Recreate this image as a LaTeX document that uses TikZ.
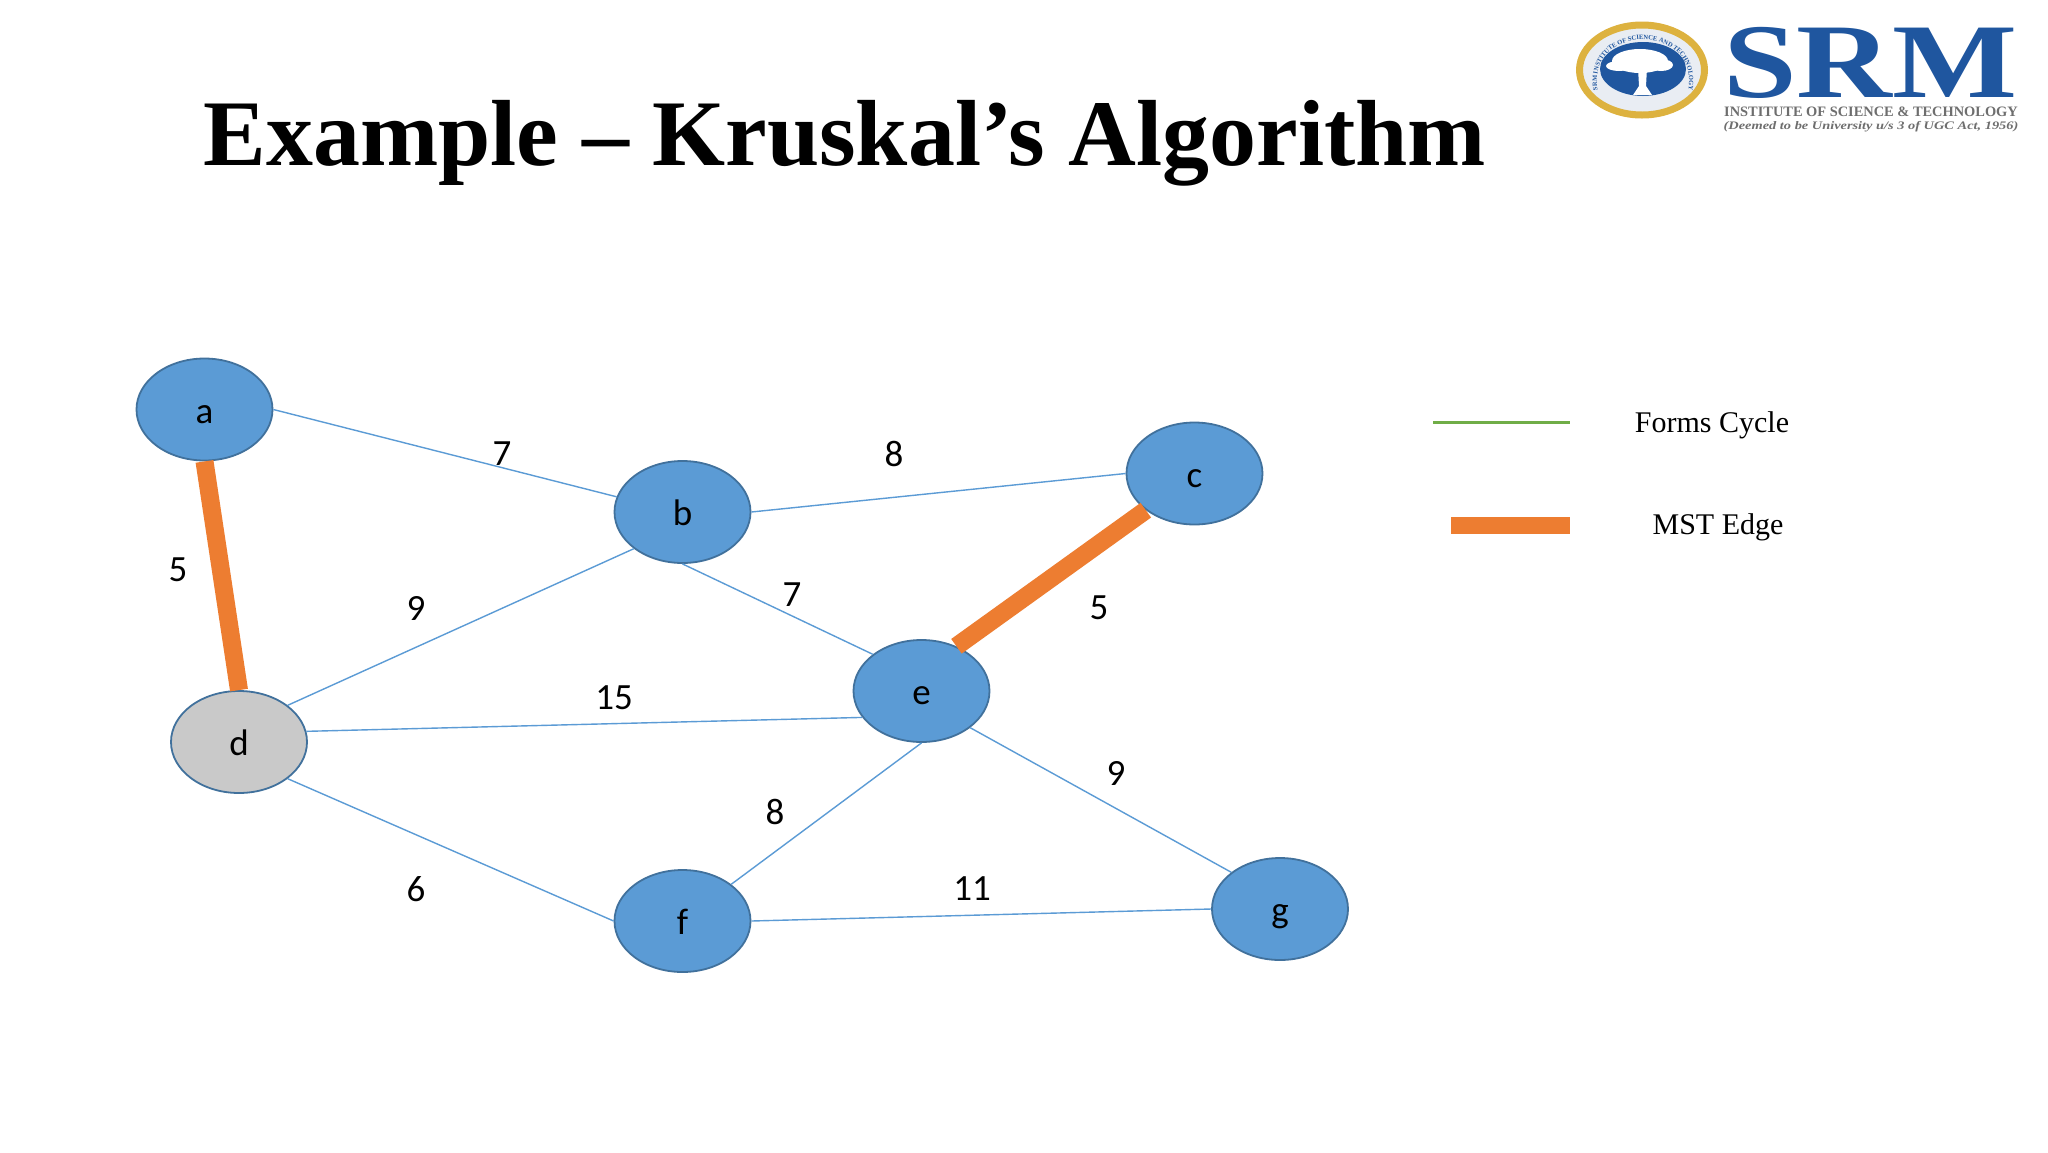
\documentclass[tikz,border=0pt]{standalone}
\usepackage{fontspec}
\usepackage{graphicx}
\setmainfont{Liberation Serif}
\newfontfamily\calib{Carlito}
\usetikzlibrary{shapes.geometric,decorations.text}
\definecolor{nodeblue}{HTML}{5B9BD5}
\definecolor{nodeedge}{HTML}{41719C}
\definecolor{mstorange}{HTML}{ED7D31}
\definecolor{cyclegreen}{HTML}{70AD47}
\definecolor{nodegray}{HTML}{C9C9C9}
\definecolor{srmblue}{HTML}{1F569F}
\definecolor{srmgold}{HTML}{DDB23F}
\definecolor{srmgrey}{HTML}{6E6E6E}
\definecolor{sealback}{HTML}{E9EDF3}
\tikzset{
  x=1pt,y=-1pt,
  vertex/.style={ellipse,draw=nodeedge,line width=1.8pt,fill=nodeblue,minimum width=136pt,minimum height=102pt,inner sep=0pt,text height=30pt,text depth=3pt,font=\calib\fontsize{37}{37}\selectfont,text=black},
  graphedge/.style={draw=nodeblue,line width=1.4pt},
  mstedge/.style={draw=mstorange,line width=18pt},
  weight/.style={font=\calib\fontsize{37}{37}\selectfont,text=black,inner sep=0pt},
  legendtext/.style={font=\fontsize{30}{30}\selectfont,text=black,inner sep=0pt},
}
\begin{document}
\begin{tikzpicture}
\useasboundingbox (0,0) rectangle (2048,1152);
\fill[white] (0,0) rectangle (2048,1152);
\node[inner sep=0pt,font=\bfseries\fontsize{93.9}{94}\selectfont] (title) at (845,143) {Example – Kruskal’s Algorithm};
% graph
\node[vertex] (a) at (204.5,409.5) {a};
\node[vertex] (b) at (682.5,512) {b};
\node[vertex] (c) at (1194.5,473.5) {c};
\node[vertex,fill=nodegray] (d) at (239,742) {d};
\node[vertex] (e) at (921.5,691) {e};
\node[vertex] (f) at (682.5,921) {f};
\node[vertex] (g) at (1280,909) {g};
\draw[graphedge] (a.east) -- (b.167);
\draw[graphedge] (b.east) -- (c.west);
\draw[graphedge] (b.south) -- (e.143);
\draw[graphedge] (b.217) -- (d.37);
\draw[graphedge] (d.9) -- (e.204);
\draw[graphedge] (d.-37) -- (f.west);
\draw[graphedge] (e.south) -- (f.37);
\draw[graphedge] (e.-37) -- (g.143);
\draw[graphedge] (f.east) -- (g.west);
\draw[mstedge] (a.south) -- (d.north);
\draw[mstedge] (c.217) -- (e.52);
% weights
\node[weight] (w1) at (502,454) {7};
\node[weight] (w2) at (894,454) {8};
\node[weight] (w3) at (178,570) {5};
\node[weight] (w4) at (416,608) {9};
\node[weight] (w5) at (792,595) {7};
\node[weight] (w6) at (1099,608) {5};
\node[weight] (w7) at (614,698) {15};
\node[weight] (w8) at (775,812) {8};
\node[weight] (w9) at (1116,773) {9};
\node[weight] (w10) at (416,889) {6};
\node[weight] (w11) at (972,889) {11};
% legend
\coordinate (lg1) at (1433,422);
\coordinate (lg2) at (1570,422);
\coordinate (lm1) at (1451,525);
\coordinate (lm2) at (1570,525);
\draw[cyclegreen,line width=3pt] (lg1) -- (lg2);
\draw[mstorange,line width=17pt] (lm1) -- (lm2);
\node[legendtext] (lt1) at (1712,425) {Forms Cycle};
\node[legendtext] (lt2) at (1718,527) {MST Edge};
% logo
\node[ellipse,draw=srmgold,line width=7pt,fill=sealback,minimum width=125pt,minimum height=90pt,inner sep=0pt] (seal) at (1642,70) {};
\fill[srmblue] (1643,69) ellipse (43 and 27);
\fill[white] (1640,61) ellipse (28 and 12);
\fill[white] (1619,66) ellipse (13 and 5);
\fill[white] (1661,65) ellipse (12 and 6);
\fill[white] (1638,68) -- (1647,68) -- (1646,86) -- (1652,95) -- (1633,95) -- (1639,86) -- cycle;
\path[decorate,decoration={text along path,text align=center,text color=srmblue,text={|\fontsize{6.5}{6.5}\selectfont\bfseries|SRM INSTITUTE OF SCIENCE AND TECHNOLOGY}}]
  (1598,92) .. controls (1584,22) and (1702,22) .. (1688,92);
\node[inner sep=0pt,text=srmblue,font=\bfseries\fontsize{106}{106}\selectfont] (srm) at (1870.5,63) {\scalebox{1.25}[1]{SRM}};
\node[inner sep=0pt,text=srmgrey,font=\bfseries\fontsize{14.4}{14.4}\selectfont] (inst) at (1871,112) {INSTITUTE OF SCIENCE \& TECHNOLOGY};
\node[inner sep=0pt,text=srmgrey,font=\bfseries\itshape\fontsize{11.5}{11.5}\selectfont] (deem) at (1871,127) {\scalebox{1.25}[1]{(Deemed to be University u/s 3 of UGC Act, 1956)}};
\end{tikzpicture}
\end{document}
